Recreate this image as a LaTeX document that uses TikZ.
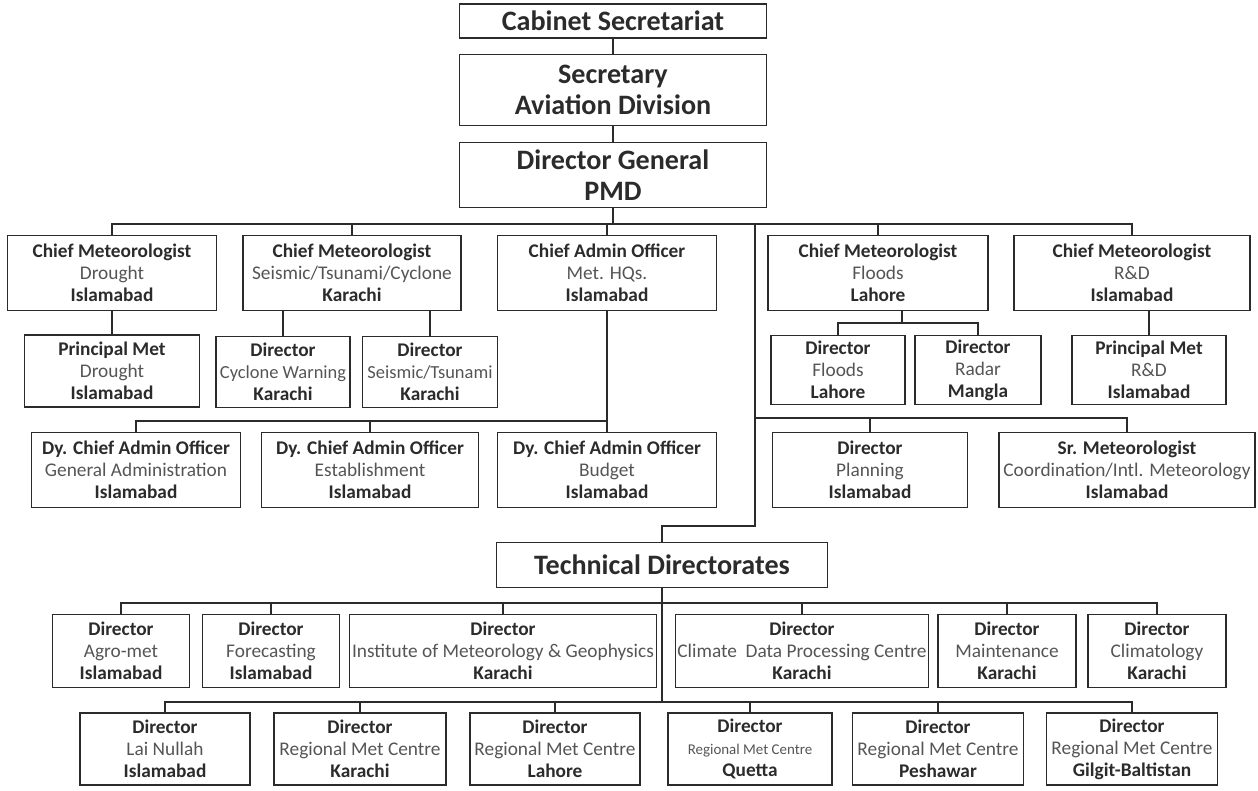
\documentclass[tikz,border=0pt]{standalone}
\usepackage{fontspec}
\setmainfont{Carlito}

\definecolor{ink}{HTML}{2B2B2B}
\definecolor{soft}{HTML}{555555}
\newcommand{\post}[3]{\textbf{#1}\\{\color{soft}#2}\\\textbf{#3}}

\tikzset{
  box/.style={draw=ink, line width=0.7pt, align=center, inner sep=1pt, text=ink,
    font=\fontsize{11}{12.5}\selectfont},
  big/.style={box, font=\fontsize{16}{17.6}\selectfont\bfseries},
  sz/.style 2 args={minimum width=#1*0.02cm, minimum height=#2*0.02cm},
  link/.style={draw=ink, line width=0.6pt},
}

\begin{document}
\begin{tikzpicture}[x=0.02cm, y=-0.02cm]
    \useasboundingbox (0,0) rectangle (1258,791);
    % top of the chain
    \node[big, sz={307}{34}] (cab) at (613,21) {Cabinet Secretariat};
    \node[big, sz={307}{71}] (sec) at (613,90) {Secretary\\Aviation Division};
    \node[big, sz={307}{65}] (dg) at (613,175) {Director General\\PMD};
    % chiefs
    \node[box, sz={209}{75}] (dro) at (112,273) {\post{Chief Meteorologist}{Drought}{Islamabad}};
    \node[box, sz={218}{75}] (cms) at (352,273) {\post{Chief Meteorologist}{Seismic/Tsunami/Cyclone}{Karachi}};
    \node[box, sz={219}{75}] (cao) at (607,273) {\post{Chief Admin Officer}{Met. HQs.}{Islamabad}};
    \node[box, sz={220}{75}] (cmf) at (878,273) {\post{Chief Meteorologist}{Floods}{Lahore}};
    \node[box, sz={236}{75}] (cmr) at (1132,273) {\post{Chief Meteorologist}{R\&D}{Islamabad}};
    % second row
    \node[box, sz={175}{72}] (pmd) at (112,371) {\post{Principal Met}{Drought}{Islamabad}};
    \node[box, sz={134}{71}] (dcw) at (283,372) {\post{Director}{\fontsize{10.5}{12.5}\selectfont Cyclone Warning}{Karachi}};
    \node[box, sz={135}{71}] (dst) at (430,372) {\post{Director}{\fontsize{10.5}{12.5}\selectfont Seismic/Tsunami}{Karachi}};
    \node[box, sz={134}{69}] (dfl) at (838,370) {\post{Director}{Floods}{Lahore}};
    \node[box, sz={126}{69}] (drd) at (978,370) {\post{Director}{Radar}{Mangla}};
    \node[box, sz={154}{69}] (pmr) at (1149,370) {\post{Principal Met}{R\&D}{Islamabad}};
    % admin and staff row
    \node[box, sz={209}{75}] (dga) at (136,470) {\post{Dy. Chief Admin Officer}{General Administration}{Islamabad}};
    \node[box, sz={217}{75}] (des) at (370,470) {\post{Dy. Chief Admin Officer}{Establishment}{Islamabad}};
    \node[box, sz={219}{75}] (dbu) at (607,470) {\post{Dy. Chief Admin Officer}{Budget}{Islamabad}};
    \node[box, sz={195}{75}] (dpl) at (870,470) {\post{Director}{Planning}{Islamabad}};
    \node[box, sz={256}{75}] (srm) at (1127,470) {\post{Sr. Meteorologist}{Coordination/Intl. Meteorology}{Islamabad}};
    % technical side
    \node[big, sz={331}{45}] (td) at (662,565) {Technical Directorates};
    \node[box, sz={137}{73}] (dag) at (121,651) {\post{Director}{Agro-met}{Islamabad}};
    \node[box, sz={137}{73}] (dfc) at (271,651) {\post{Director}{Forecasting}{Islamabad}};
    \node[box, sz={307}{73}] (dim) at (503,651) {\post{Director}{Institute of Meteorology \& Geophysics}{Karachi}};
    \node[box, sz={245}{73}] (dcd) at (802,651) {\post{Director}{Climate\ \ Data Processing Centre}{Karachi}};
    \node[box, sz={138}{73}] (dmt) at (1007,651) {\post{Director}{Maintenance}{Karachi}};
    \node[box, sz={138}{73}] (dcl) at (1157,651) {\post{Director}{Climatology}{Karachi}};
    % regional centres
    \node[box, sz={170}{72}] (dln) at (165,749) {\post{Director}{Lai Nullah}{Islamabad}};
    \node[box, sz={172}{72}] (rmk) at (360,749) {\post{Director}{Regional Met Centre}{Karachi}};
    \node[box, sz={170}{72}] (rml) at (555,749) {\post{Director}{Regional Met Centre}{Lahore}};
    \node[box, sz={164}{72}] (rmq) at (750,749) {\post{Director}{\fontsize{8.5}{12.5}\selectfont Regional Met Centre}{Quetta}};
    \node[box, sz={171}{72}] (rmp) at (938,749) {\post{Director}{Regional Met Centre}{Peshawar}};
    \node[box, sz={171}{72}] (rmg) at (1132,749) {\post{Director}{Regional Met Centre}{Gilgit-Baltistan}};

    % links
    \draw[link] (cab) -- (sec);
    \draw[link] (sec) -- (dg);
    \coordinate (bus) at (0,224);
    \draw[link] (dg.south) -- (dg.south |- bus);
    \draw[link] (dro.north) |- (bus -| cmr.north) -- (cmr.north);
    \foreach \n in {cms,cao,cmf}
        \draw[link] (\n.north) -- (\n.north |- bus);
    \draw[link] (dro) -- (pmd);
    \draw[link] (dcw.north) -- (dcw.north |- cms.south);
    \draw[link] (dst.north) -- (dst.north |- cms.south);
    \coordinate (fmid) at (902,323);
    \draw[link] (fmid) -- (fmid |- cmf.south);
    \draw[link] (dfl.north) |- (fmid -| drd.north) -- (drd.north);
    \draw[link] (pmr.north) -- (pmr.north |- cmr.south);
    % admin branch
    \coordinate (abus) at (0,421);
    \draw[link] (cao.south) -- (dbu.north);
    \draw[link] (dga.north) |- (abus -| cao.south);
    \draw[link] (des.north) -- (des.north |- abus);
    % spine down to the technical side
    \coordinate (spine) at (755,224);
    \coordinate (rbus) at (755,418);
    \coordinate (jog) at (755,526);
    \draw[link] (spine) -- (jog) -| (td.north);
    \draw[link] (rbus) -| (srm.north);
    \draw[link] (dpl.north) -- (dpl.north |- rbus);
    \coordinate (tbus) at (0,603);
    \coordinate (bbus) at (0,702);
    \draw[link] (dag.north) |- (tbus -| dcl.north) -- (dcl.north);
    \foreach \n in {dfc,dim,dcd,dmt}
        \draw[link] (\n.north) -- (\n.north |- tbus);
    \draw[link] (td.south) -- (td.south |- bbus);
    \draw[link] (dln.north) |- (bbus -| rmg.north) -- (rmg.north);
    \foreach \n in {rmk,rml,rmq,rmp}
        \draw[link] (\n.north) -- (\n.north |- bbus);
\end{tikzpicture}
\end{document}
